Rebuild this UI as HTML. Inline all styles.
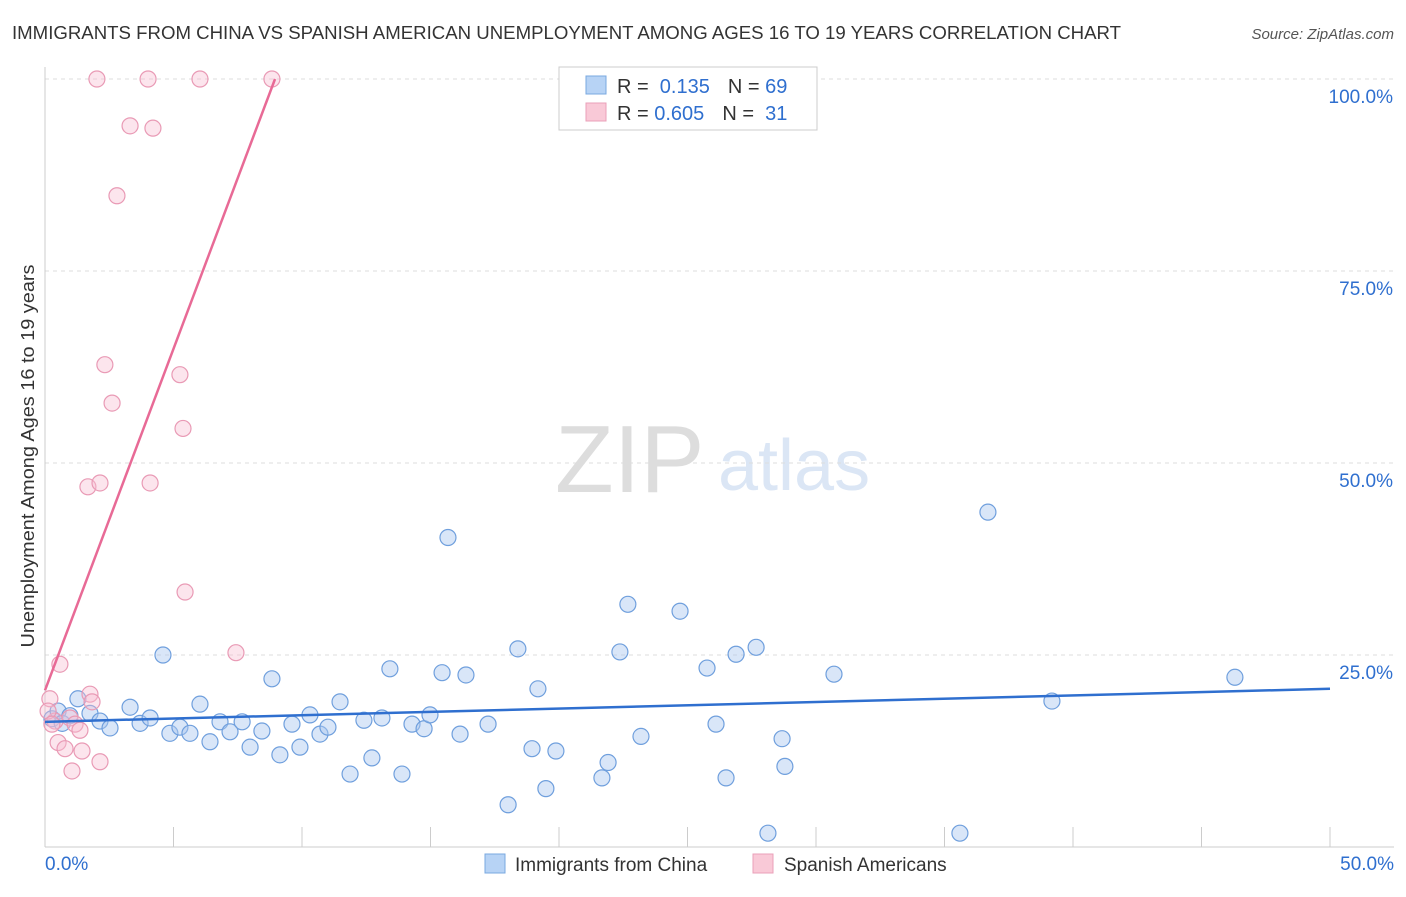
<!DOCTYPE html>
<html><head><meta charset="utf-8"><style>
body{margin:0;background:#fff;font-family:"Liberation Sans",sans-serif;}
svg text{font-family:"Liberation Sans",sans-serif;}
</style></head><body>
<svg id="c" width="1406" height="892" xmlns="http://www.w3.org/2000/svg">
<text x="12" y="39" font-size="18" fill="#333" textLength="1109" lengthAdjust="spacingAndGlyphs">IMMIGRANTS FROM CHINA VS SPANISH AMERICAN UNEMPLOYMENT AMONG AGES 16 TO 19 YEARS CORRELATION CHART</text>
<text x="1394" y="39" font-size="15" fill="#555" font-style="italic" text-anchor="end">Source: ZipAtlas.com</text>
<text x="34" y="456" font-size="18" fill="#333" text-anchor="middle" textLength="383" lengthAdjust="spacingAndGlyphs" transform="rotate(-90 34 456)">Unemployment Among Ages 16 to 19 years</text>
<text x="555" y="492" font-size="96" fill="#ddd" font-family="Liberation Serif">ZIP</text>
<text x="718" y="490" font-size="72" fill="#dbe6f5">atlas</text>
<g id="grid"></g><g id="marks"></g>
<g>
<rect x="559" y="67" width="258" height="63" fill="#fff" stroke="#ccc"/>
<rect x="586" y="76" width="20" height="18" fill="#b7d3f5" stroke="#7aa8e0"/>
<rect x="586" y="103" width="20" height="18" fill="#f9c9d7" stroke="#eaa0b8"/>
<text x="617" y="93" font-size="20" fill="#333">R = <tspan fill="#2f6fcf">&#160;0.135</tspan><tspan dx="18">N = </tspan><tspan fill="#2f6fcf">69</tspan></text>
<text x="617" y="120" font-size="20" fill="#333">R = <tspan fill="#2f6fcf">0.605</tspan><tspan dx="18">N = </tspan><tspan fill="#2f6fcf">&#160;31</tspan></text>
</g>
<g>
<rect x="485" y="854" width="20" height="19" fill="#b7d3f5" stroke="#7aa8e0"/>
<text x="515" y="871" font-size="19" fill="#333">Immigrants from China</text>
<rect x="753" y="854" width="20" height="19" fill="#f9c9d7" stroke="#eaa0b8"/>
<text x="784" y="871" font-size="19" fill="#333">Spanish Americans</text>
</g>
</svg>
<script>
const xTicks=[0,5,10,15,20,25,30,35,40,45,50];
const yTicks=[25,50,75,100];
const chinaX=[0.27,0.51,0.67,0.97,1.28,1.75,2.14,2.53,3.31,3.70,4.09,4.59,4.86,5.25,5.64,6.03,6.42,6.81,7.20,7.67,7.98,8.44,8.83,9.14,9.61,9.92,10.31,10.70,11.01,11.48,11.87,12.41,12.72,13.11,13.42,13.89,14.28,14.75,14.98,15.45,15.68,16.15,16.38,17.24,18.02,18.40,18.95,19.18,19.49,19.88,21.67,21.91,22.37,22.68,23.19,24.71,25.76,26.11,26.50,26.89,27.67,28.13,28.68,28.79,30.70,35.60,36.69,39.18,46.30];
const chinaY=[16.7,17.7,16.1,17.1,19.3,17.4,16.4,15.5,18.2,16.1,16.8,25.0,14.8,15.6,14.8,18.6,13.7,16.3,15.0,16.3,13.0,15.1,21.9,12.0,16.0,13.0,17.2,14.7,15.6,18.9,9.5,16.5,11.6,16.8,23.2,9.5,16.0,15.4,17.2,22.7,40.3,14.7,22.4,16.0,5.5,25.8,12.8,20.6,7.6,12.5,9.0,11.0,25.4,31.6,14.4,30.7,23.3,16.0,9.0,25.1,26.0,1.8,14.1,10.5,22.5,1.8,43.6,19.0,22.1];
const spanX=[0.19,0.39,0.51,0.58,0.78,0.97,1.05,1.17,1.36,1.44,1.67,1.75,1.83,2.14,2.14,2.33,2.61,2.80,2.02,3.31,4.01,4.20,4.09,5.25,5.37,5.45,6.03,7.43,8.83,0.12,0.27];
const spanY=[19.3,16.4,13.6,23.8,12.8,16.8,9.9,16.0,15.2,12.5,46.9,19.9,18.9,11.1,47.4,62.8,57.8,84.8,100,93.9,100,93.6,47.4,61.5,54.5,33.2,100,25.3,100,17.7,16.0];
const trendChina=[16.3,20.6];
const trendSpan=[20.4,100,8.95];
const X=v=>45+v*25.7, Y=v=>847-v*7.68;
const NS='http://www.w3.org/2000/svg';
function mk(p,t,a){const e=document.createElementNS(NS,t);for(const k in a)e.setAttribute(k,a[k]);p.appendChild(e);return e;}
const g=document.getElementById('grid'), m=document.getElementById('marks');
yTicks.forEach(t=>{
 const l=mk(g,'line',{x1:45,x2:1394,y1:Y(t),y2:Y(t),stroke:'#ddd','stroke-dasharray':'4 4'});
 
 
 const tx=mk(g,'text',{x:1393,y:Y(t)+24,'font-size':19,fill:'#2f6fcf','text-anchor':'end'});tx.textContent=t.toFixed(1)+'%';
 
 
});
mk(g,'line',{x1:45,x2:45,y1:67,y2:847,stroke:'#ccc'});
mk(g,'line',{x1:45,x2:1394,y1:847,y2:847,stroke:'#ccc'});
xTicks.forEach(t=>{const l=mk(g,'line',{x1:X(t),x2:X(t),y1:827,y2:847,stroke:'#ccc'});
 
 });
[[0,'start',45],[50,'end',1394]].forEach(([t,a,x])=>{const tx=mk(g,'text',{x:x,y:870,'font-size':19,fill:'#2f6fcf','text-anchor':a});tx.textContent=t.toFixed(1)+'%';
 
 });
chinaX.forEach((v,i)=>{const c=mk(m,'circle',{cx:X(v),cy:Y(chinaY[i]),r:8,fill:'rgba(170,200,240,0.45)',stroke:'#6f9fdd','stroke-width':1.2});
 
 });
spanX.forEach((v,i)=>{const c=mk(m,'circle',{cx:X(v),cy:Y(spanY[i]),r:8,fill:'rgba(248,190,210,0.4)',stroke:'#e99ab5','stroke-width':1.2});
 
 });
const l1=mk(m,'line',{x1:X(0),y1:Y(trendChina[0]),x2:X(50),y2:Y(trendChina[1]),stroke:'#2f6fcf','stroke-width':2.5});


const l2=mk(m,'line',{x1:X(0),y1:Y(trendSpan[0]),x2:X(trendSpan[2]),y2:Y(trendSpan[1]),stroke:'#e86a96','stroke-width':2.5});


</script>
</body></html>
